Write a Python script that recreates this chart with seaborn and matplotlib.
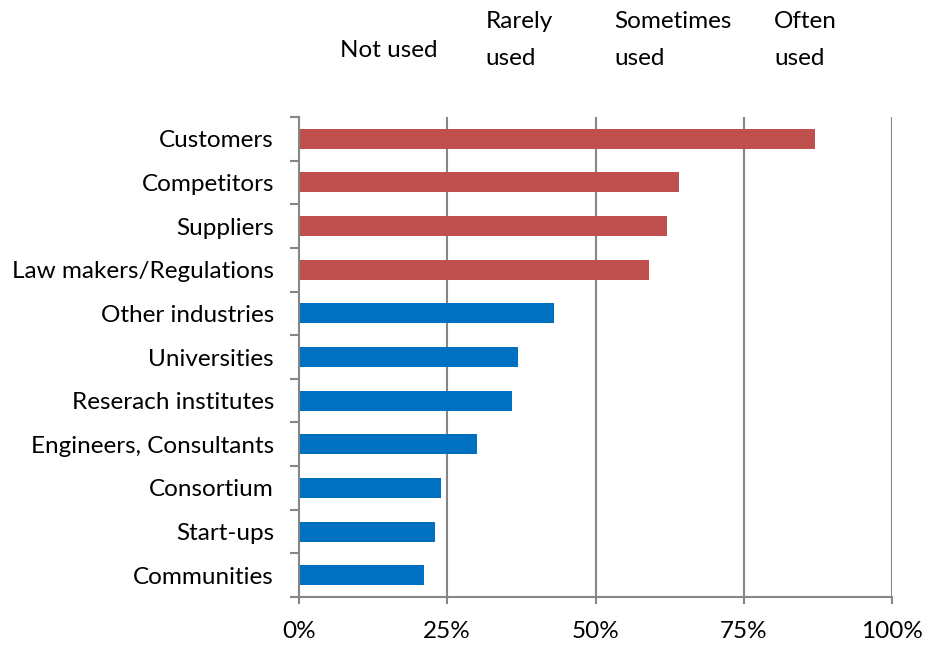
import numpy as np
import pandas as pd
import matplotlib
matplotlib.use("Agg")
import matplotlib.pyplot as plt
import matplotlib.transforms as mtransforms
import seaborn as sns

# Sources of information, with the share of respondents using each one (%)
sources = [
    "Customers", "Competitors", "Suppliers", "Law makers/Regulations",
    "Other industries", "Universities", "Reserach institutes",
    "Engineers, Consultants", "Consortium", "Start-ups", "Communities",
]
share = [87, 64, 62, 59, 43, 37, 36, 30, 24, 23, 21]
group = ["market"] * 4 + ["knowledge"] * 7

usage_labels = ["Not used", "Rarely\nused", "Sometimes\nused", "Often\nused"]
usage_pos = [6.9, 31.5, 53.1, 80.1]

tick_vals = [0, 25, 50, 75, 100]
tick_labels = ["0%", "25%", "50%", "75%", "100%"]

palette = {"market": "#C0504D", "knowledge": "#0070C0"}
grid_gray = "#868686"
FS = 17.5

sns.set_theme(style="white")
plt.rcParams["font.family"] = ["Lato", "DejaVu Sans"]

df = pd.DataFrame({"source": sources, "share": share, "group": group})

W, H = 925, 646
fig = plt.figure(figsize=(W / 100, H / 100), dpi=100)
ax = fig.add_axes([299 / W, 1 - 597 / H, (892 - 299) / W, (597 - 117) / H])

sns.barplot(data=df, x="share", y="source", hue="group", palette=palette,
            dodge=False, width=0.46, legend=False, ax=ax, saturation=1,
            edgecolor="none")

ax.set_xlim(0, 100)
ax.set_ylim(len(sources) - 0.5, -0.5)
ax.set_xticks(tick_vals)
ax.set_xticklabels(tick_labels, fontsize=FS, color="black")
ax.set_xlabel("")
ax.set_ylabel("")
ax.tick_params(axis="y", which="major", left=True, length=0, pad=18,
               labelsize=FS, labelcolor="black")
ax.set_yticks(np.arange(-0.5, len(sources), 1), minor=True)
ax.tick_params(axis="y", which="minor", left=True, length=6.5, width=1.5,
               color=grid_gray, direction="out")
ax.tick_params(axis="x", which="major", bottom=True, length=5, width=1.5,
               color=grid_gray, direction="out", pad=12)

# vertical gridlines at every quarter
for v in tick_vals[1:]:
    ax.axvline(v, color=grid_gray, lw=1.5, zorder=0)
ax.set_axisbelow(True)

for side in ["top", "right"]:
    ax.spines[side].set_visible(False)
for side in ["left", "bottom"]:
    ax.spines[side].set_color(grid_gray)
    ax.spines[side].set_linewidth(1.5)

# usage scale headings above the plot, one text per line
trans = mtransforms.blended_transform_factory(ax.transData, fig.transFigure)
for lab, xpos in zip(usage_labels, usage_pos):
    lines = lab.split("\n")
    baselines = [57] if len(lines) == 1 else [28, 65]
    for line, base in zip(lines, baselines):
        ax.text(xpos, 1 - base / H, line, transform=trans, ha="left",
                va="baseline", fontsize=FS, color="black")

fig.savefig("out.png", dpi=100)
